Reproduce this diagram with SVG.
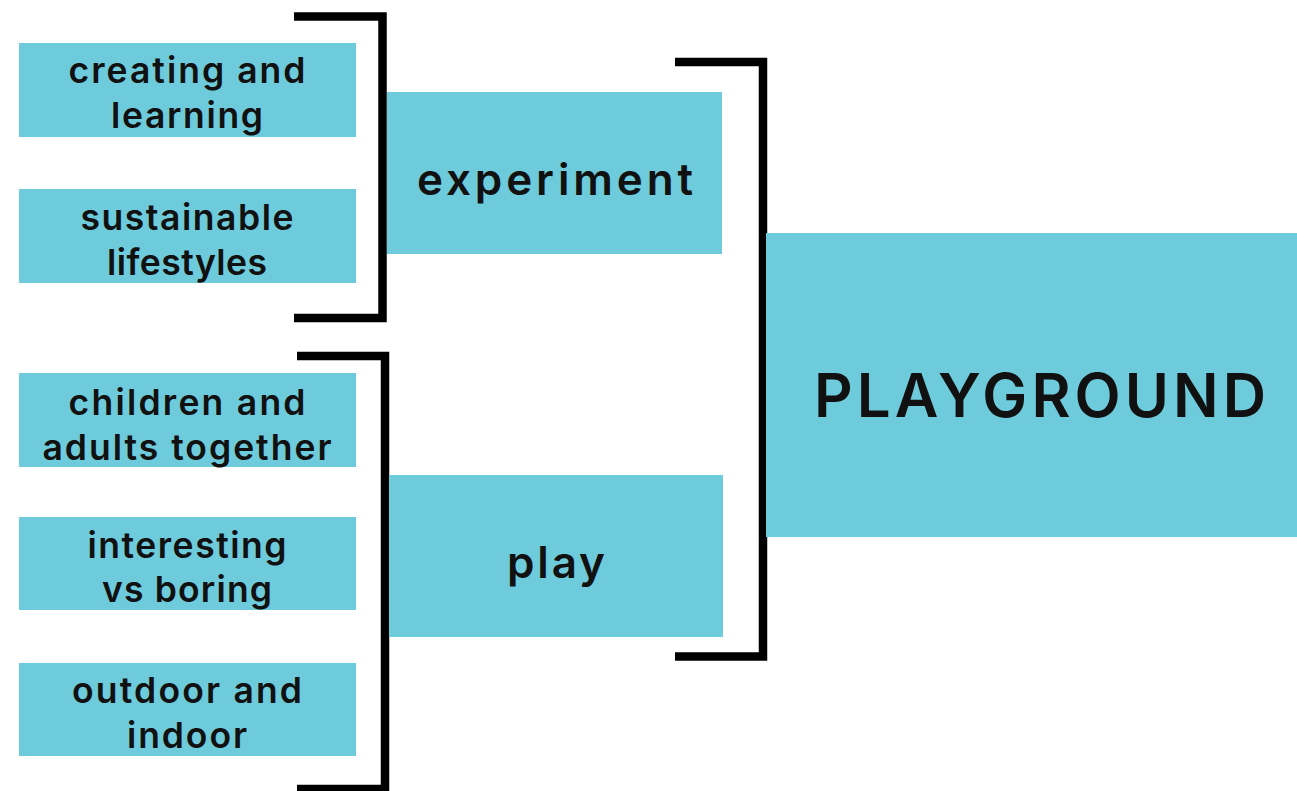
<svg xmlns="http://www.w3.org/2000/svg" width="1297" height="791" viewBox="0 0 1297 791">
<style>
.box{fill:#6ecbdb}
.t{font-family:Inter,"Noto Sans","Liberation Sans",sans-serif;font-weight:600;fill:#111;text-anchor:middle}
.s{font-size:35.5px}
.m{font-size:44px}
.l{font-size:60px}
.br{fill:none;stroke:#000;stroke-width:8.5;stroke-linejoin:miter}
</style>
<rect width="1297" height="791" fill="#fff"/>
<g id="connectors">
<path class="br" d="M294 16.5 H382.5 V318 H294"/>
<path class="br" d="M297 356 H385 V789 H297"/>
<path class="br" d="M675 62 H763 V656.5 H675"/>
</g>
<g id="creating">
<rect class="box" x="19" y="43" width="337" height="94"/>
<text class="t s" x="187" y="83" textLength="237">creating and</text>
<text class="t s" x="187" y="128" textLength="152">learning</text>
</g>
<g id="sustainable">
<rect class="box" x="19" y="189" width="337" height="94"/>
<text class="t s" x="187" y="230" textLength="213">sustainable</text>
<text class="t s" x="187" y="275" textLength="160">lifestyles</text>
</g>
<g id="children">
<rect class="box" x="19" y="373" width="337" height="94"/>
<text class="t s" x="187" y="415" textLength="237">children and</text>
<text class="t s" x="187" y="460" textLength="289">adults together</text>
</g>
<g id="interesting">
<rect class="box" x="19" y="517" width="337" height="93"/>
<text class="t s" x="187" y="558" textLength="199">interesting</text>
<text class="t s" x="187" y="602" textLength="170">vs boring</text>
</g>
<g id="outdoor">
<rect class="box" x="19" y="663" width="337" height="93"/>
<text class="t s" x="187" y="703" textLength="230">outdoor and</text>
<text class="t s" x="187" y="748" textLength="120">indoor</text>
</g>
<g id="experiment">
<rect class="box" x="387" y="92" width="335" height="162"/>
<text class="t m" x="555" y="195" textLength="276">experiment</text>
</g>
<g id="play">
<rect class="box" x="389" y="475" width="334" height="162"/>
<text class="t m" x="556" y="578" textLength="98">play</text>
</g>
<g id="playground">
<rect class="box" x="766" y="233" width="531" height="304"/>
<text class="t l" x="1040" y="417" textLength="452">PLAYGROUND</text>
</g>
</svg>
